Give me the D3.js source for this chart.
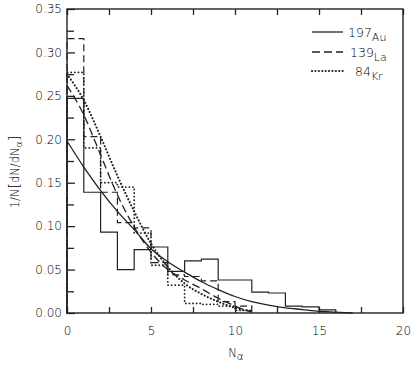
<!DOCTYPE html>
<html><head><meta charset="utf-8">
<script src="https://cdn.jsdelivr.net/npm/d3@7"></script>
<style>
html,body{margin:0;padding:0;background:#fff;}
svg text{font-family:"DejaVu Sans",sans-serif;fill:#000;font-weight:200;}
</style></head>
<body><svg id="c" width="419" height="382"></svg>
<script>
// ---- data ----
const xTicks = [0, 5, 10, 15, 20];
const xMinorTicks = [2.5, 7.5, 12.5, 17.5];
const yTicks = [0, 0.05, 0.10, 0.15, 0.20, 0.25, 0.30, 0.35];
const yMinorTicks = [0.025, 0.075, 0.125, 0.175, 0.225, 0.275, 0.325];

// histograms: bin i covers [i, i+1)
const auHist = [0.247, 0.139, 0.093, 0.050, 0.073, 0.076, 0.048, 0.060, 0.062, 0.038, 0.038, 0.024, 0.023, 0.008, 0.007, 0.0035];
const laHist = [0.316, 0.203, 0.139, 0.104, 0.098, 0.058, 0.044, 0.042, 0.037, 0.013, 0.008];
const krHist = [0.277, 0.190, 0.150, 0.145, 0.092, 0.055, 0.032, 0.011, 0.010, 0.008, 0.003];

// smooth curves
const auCurveX = [0, 1, 2, 3, 4, 5, 6, 7, 8, 9, 10, 11, 12, 13, 14, 15, 16, 17];
const auCurveY = [0.198, 0.168, 0.141, 0.117, 0.096, 0.074, 0.059, 0.047, 0.036, 0.027, 0.019, 0.013, 0.009, 0.006, 0.004, 0.002, 0.001, 0];
const laCurveX = [0, 1, 2, 3, 4, 5, 6, 7, 8, 9, 10, 10.5, 11];
const laCurveY = [0.262, 0.228, 0.182, 0.136, 0.099, 0.070, 0.050, 0.038, 0.028, 0.017, 0.008, 0.004, 0.001];
const krCurveX = [0, 1, 2, 3, 4, 5, 6, 7, 8, 9, 10, 11];
const krCurveY = [0.275, 0.245, 0.203, 0.158, 0.117, 0.080, 0.053, 0.034, 0.022, 0.013, 0.006, 0.002];

const legendMass = ["197", "139", "84"];
const legendElem = ["Au", "La", "Kr"];

// ---- drawing ----
const svg = d3.select("#c");
const x = d3.scaleLinear().domain([0, 20]).range([67, 403]);
const y = d3.scaleLinear().domain([0, 0.35]).range([313, 9]);
const ink = "#222";

const styles = [
  {dash: null, w: 1.3, cap: "butt"},
  {dash: "8,4", w: 1.3, cap: "butt"},
  {dash: "0.1,3.3", w: 2.1, cap: "round"}
];

// frame
svg.append("rect").attr("x", x(0)).attr("y", y(0.35))
  .attr("width", x(20) - x(0)).attr("height", y(0) - y(0.35))
  .attr("fill", "none").attr("stroke", ink).attr("stroke-width", 1.4);

function styleAxis(g) {
  g.select(".domain").remove();
  g.selectAll(".tick line").attr("stroke", ink).attr("stroke-width", 1.3);
  g.selectAll(".tick text").attr("font-size", 12).style("fill", "#000")
    .attr("font-family", "DejaVu Sans, sans-serif").style("font-weight", 200);
}

svg.append("g").attr("transform", `translate(0,${y(0)})`)
  .call(d3.axisBottom(x).tickValues(xTicks).tickSize(-6).tickPadding(13).tickFormat(d3.format("d")))
  .call(styleAxis);
svg.append("g").attr("transform", `translate(0,${y(0)})`)
  .call(d3.axisBottom(x).tickValues(xMinorTicks).tickSize(-6).tickFormat(""))
  .call(styleAxis);
svg.append("g").attr("transform", `translate(0,${y(0.35)})`)
  .call(d3.axisTop(x).tickValues(xTicks.concat(xMinorTicks)).tickSize(-6).tickFormat(""))
  .call(styleAxis);
svg.append("g").attr("transform", `translate(${x(0)},0)`)
  .call(d3.axisLeft(y).tickValues(yTicks).tickSize(-8).tickPadding(5).tickFormat(d3.format(".2f")))
  .call(styleAxis);
svg.append("g").attr("transform", `translate(${x(0)},0)`)
  .call(d3.axisLeft(y).tickValues(yMinorTicks).tickSize(-7).tickFormat(""))
  .call(styleAxis);

// histograms as step outlines
function histPoints(vals) {
  const pts = [[0, 0]];
  vals.forEach((v, i) => { pts.push([i, v]); pts.push([i + 1, v]); });
  pts.push([vals.length, 0]);
  return pts;
}
const stepLine = d3.line().x(d => x(d[0])).y(d => y(d[1]));
[auHist, laHist, krHist].forEach((h, i) => {
  const s = styles[i];
  svg.append("path").attr("d", stepLine(histPoints(h)))
    .attr("fill", "none").attr("stroke", ink).attr("stroke-width", i === 2 ? 1.8 : 1.2)
    .attr("stroke-dasharray", i === 0 ? null : (i === 1 ? "7,4" : "0.1,3.5"))
    .attr("stroke-linecap", s.cap);
});

// curves
const curveLine = d3.line().x(d => x(d[0])).y(d => y(d[1])).curve(d3.curveMonotoneX);
[[auCurveX, auCurveY], [laCurveX, laCurveY], [krCurveX, krCurveY]].forEach((c, i) => {
  const s = styles[i];
  const pts = c[0].map((v, j) => [v, c[1][j]]);
  svg.append("path").attr("d", curveLine(pts))
    .attr("fill", "none").attr("stroke", ink).attr("stroke-width", s.w)
    .attr("stroke-dasharray", s.dash).attr("stroke-linecap", s.cap);
});

// legend
const legY = [32, 52, 71];
const legTextX = [348, 350, 355];
legendMass.forEach((m, i) => {
  const s = styles[i];
  svg.append("line").attr("x1", 312).attr("x2", i === 2 ? 345 : 343)
    .attr("y1", legY[i]).attr("y2", legY[i])
    .attr("stroke", ink).attr("stroke-width", s.w)
    .attr("stroke-dasharray", s.dash).attr("stroke-linecap", s.cap);
  const t = svg.append("text").attr("x", legTextX[i]).attr("y", legY[i] + 5).attr("font-size", 12.5);
  t.append("tspan").text(m);
  t.append("tspan").attr("dy", 4).attr("font-size", 11).text(legendElem[i]);
});

// axis titles
const xt = svg.append("text").attr("x", 236).attr("y", 357).attr("text-anchor", "middle").attr("font-size", 11.5);
xt.append("tspan").text("N");
xt.append("tspan").attr("dy", 3).attr("font-size", 10.5).text("α");

const yt = svg.append("text").attr("transform", "translate(19,172) rotate(-90)")
  .attr("text-anchor", "middle").attr("font-size", 11.5);
yt.append("tspan").text("1/N");
yt.append("tspan").attr("font-size", 14).text("[");
yt.append("tspan").text("dN/dN");
yt.append("tspan").attr("dy", 3).attr("font-size", 9.5).text("α");
yt.append("tspan").attr("dy", -3).attr("font-size", 14).text("]");
</script>
</body></html>
